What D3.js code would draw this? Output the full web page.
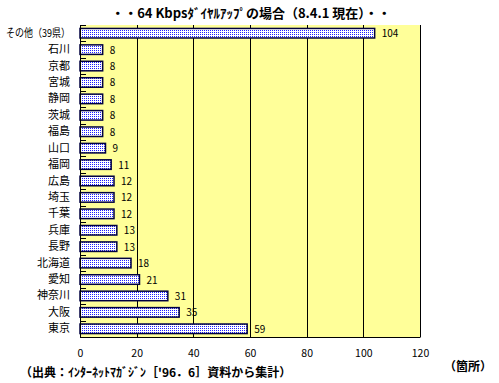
<!DOCTYPE html>
<html><head><meta charset="utf-8">
<script src="https://cdn.jsdelivr.net/npm/d3@7"></script>
<style>body{margin:0;background:#fff}svg{display:block}text{font-family:"Noto Sans CJK JP","Noto Sans",sans-serif}</style>
</head><body>
<script>
const categories = ["その他（39県）","石川","京都","宮城","静岡","茨城","福島","山口","福岡","広島","埼玉","千葉","兵庫","長野","北海道","愛知","神奈川","大阪","東京"];
const values = [104,8,8,8,8,8,8,9,11,12,12,12,13,13,18,21,31,35,59];
const xTicks = [0,20,40,60,80,100,120];
const title = "・・64 Kbpsﾀﾞｲﾔﾙｱｯﾌﾟの場合（8.4.1 現在）・・";
const source = "（出典：ｲﾝﾀｰﾈｯﾄﾏｶﾞｼﾞﾝ［'96．6］資料から集計）";
const unit = "（箇所）";

const W = 499, H = 383;
const m = {left:80, right:79, top:25, bottom:46};
const svg = d3.select("body").append("svg").attr("width",W).attr("height",H);
const defs = svg.append("defs");
const pat = defs.append("pattern").attr("id","dots").attr("patternUnits","userSpaceOnUse").attr("width",2).attr("height",2);
pat.append("rect").attr("width",2).attr("height",2).attr("fill","#ffffff");
pat.append("rect").attr("width",1).attr("height",1).attr("fill","#2020ff");

const x = d3.scaleLinear().domain([0,120]).range([m.left, W-m.right]);
const y = d3.scaleBand().domain(categories).range([m.top, H-m.bottom]).paddingInner(0.42).paddingOuter(0.21);

svg.append("rect").attr("x",x(0)).attr("y",m.top).attr("width",x(120)-x(0)).attr("height",H-m.bottom-m.top).attr("fill","#ffff99");

// gridlines
svg.append("g").selectAll("line").data(xTicks.slice(1)).join("line")
  .attr("x1",d=>Math.round(x(d))+0.5).attr("x2",d=>Math.round(x(d))+0.5)
  .attr("y1",m.top).attr("y2",H-m.bottom).attr("stroke","#000").attr("stroke-width",1);

// bars
svg.append("g").selectAll("rect").data(values).join("rect")
  .attr("x",x(0)).attr("y",(d,i)=>y(categories[i]))
  .attr("width",d=>x(d)-x(0)).attr("height",y.bandwidth())
  .attr("fill","url(#dots)").attr("stroke","#000040").attr("stroke-width",1.5);

// value labels
svg.append("g").selectAll("text").data(values).join("text")
  .attr("x",d=>x(d)+7).attr("y",(d,i)=>y(categories[i])+y.bandwidth()/2+4)
  .attr("font-size",10).attr("fill","#000").text(d=>d);

// y axis
const yAxis = d3.axisLeft(y).tickSize(0).tickPadding(10);
const ga = svg.append("g").attr("transform",`translate(${x(0)},0)`).call(yAxis);
ga.select(".domain").remove();
ga.selectAll("text").attr("font-size",11).attr("fill","#000").attr("font-family",'"Noto Sans CJK JP",sans-serif')
  .filter(d=>d.length>5).attr("textLength",64).attr("lengthAdjust","spacingAndGlyphs");
svg.append("line").attr("x1",x(0)+0.5).attr("x2",x(0)+0.5).attr("y1",m.top).attr("y2",H-m.bottom).attr("stroke","#000");
// category boundary ticks (inside)
const bounds = d3.range(categories.length+1).map(i=>m.top + i*(H-m.bottom-m.top)/categories.length);
svg.append("g").selectAll("line").data(bounds).join("line")
  .attr("x1",x(0)).attr("x2",x(0)+6).attr("y1",d=>Math.round(d)+0.5).attr("y2",d=>Math.round(d)+0.5)
  .attr("stroke","#000");

// x axis
const xAxis = d3.axisBottom(x).tickValues(xTicks).tickSize(0).tickPadding(13);
const gx = svg.append("g").attr("transform",`translate(0,${H-m.bottom})`).call(xAxis);
gx.select(".domain").remove();
gx.selectAll("text").attr("font-size",10.5).attr("fill","#000").attr("font-family",'"Noto Sans CJK JP",sans-serif');
svg.append("line").attr("x1",x(0)).attr("x2",x(120)+0.5).attr("y1",H-m.bottom+0.5).attr("y2",H-m.bottom+0.5).attr("stroke","#000");

svg.append("text").attr("x",251).attr("y",18).attr("text-anchor","middle").attr("font-size",13).attr("font-weight","bold").text(title);
svg.append("text").attr("x",20).attr("y",377).attr("font-size",12).attr("font-weight","bold").text(source);
svg.append("text").attr("x",444).attr("y",371).attr("font-size",12).attr("font-weight","bold").text(unit);
</script>
</body></html>
